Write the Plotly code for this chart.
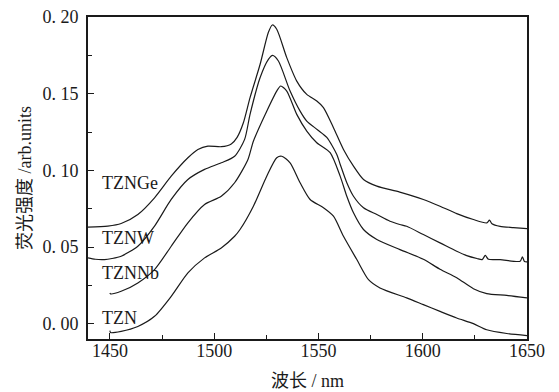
import plotly.graph_objects as go

# ---- data ----
ge_x = [1439.5, 1449, 1455.4, 1463.4, 1471.4, 1479.4, 1487.4, 1492.2, 1497, 1503.4, 1508.2, 1511,
        1514, 1517.2, 1522, 1526, 1527.9, 1530, 1534.8, 1539.6, 1544.4, 1549.2, 1552.4, 1557.2, 1562,
        1566.8, 1571.6, 1578, 1589, 1600.3, 1608.3, 1616.3, 1624.3, 1630.7, 1632, 1633.2, 1637.1,
        1643.5, 1650]
ge_y = [0.0629, 0.0636, 0.0653, 0.0712, 0.0821, 0.0962, 0.1082, 0.1136, 0.1158, 0.1154, 0.1172, 0.1215,
        0.1310, 0.1474, 0.1690, 0.1900, 0.1948, 0.1920, 0.1735, 0.1582, 0.1495, 0.1452, 0.1409, 0.1278, 0.1136,
        0.1027, 0.0940, 0.0897, 0.0858, 0.0810, 0.0766, 0.0718, 0.0679, 0.0657, 0.0675, 0.0652, 0.0635,
        0.0627, 0.0620]

w_x = [1439.5, 1443, 1447.4, 1451, 1455.4, 1463.4, 1471.4, 1479.4, 1487.4, 1495.4, 1503.4, 1509.8,
       1514.6, 1517.2, 1522, 1526, 1528, 1530.8, 1536.4, 1541.2, 1544.4, 1549.5, 1554, 1558.8,
       1560.4, 1563.6, 1566.8, 1571.6, 1578, 1584.3, 1589, 1592.3, 1600.3, 1608.3, 1616.3, 1621.1,
       1626, 1628.5, 1630, 1631.5, 1637.1, 1646.7, 1647.8, 1648.8, 1650]
w_y = [0.0429, 0.0420, 0.0418, 0.0425, 0.0440, 0.0505, 0.0636, 0.0810, 0.0940, 0.1006, 0.1049, 0.1092,
       0.1202, 0.1365, 0.1604, 0.1724, 0.1750, 0.1713, 0.1517, 0.1386, 0.1321, 0.1265, 0.1215, 0.1104,
       0.1040, 0.0919, 0.0831, 0.0756, 0.0712, 0.0668, 0.0647, 0.0635, 0.0581, 0.0527, 0.0472, 0.0444,
       0.0425, 0.0418, 0.0445, 0.0420, 0.0418, 0.0407, 0.0436, 0.0405, 0.0403]

nb_x = [1450, 1450.3, 1455.4, 1463.4, 1471.4, 1479.4, 1487.4, 1495.4, 1503.4, 1509.8, 1516.2, 1518.8,
        1525.2, 1530, 1531.9, 1534.8, 1539.6, 1544.4, 1549.2, 1555.6, 1560.4, 1563.6, 1566.8, 1571.6,
        1578, 1589.1, 1600.3, 1608.3, 1616.3, 1624.3, 1630.7, 1640.3, 1650]
nb_y = [0.0200, 0.0194, 0.0211, 0.0266, 0.0353, 0.0505, 0.0658, 0.0777, 0.0831, 0.0919, 0.1071, 0.1190,
        0.1386, 0.1517, 0.1550, 0.1517, 0.1365, 0.1256, 0.1180, 0.1115, 0.0962, 0.0831, 0.0723, 0.0614,
        0.0549, 0.0483, 0.0420, 0.0355, 0.0300, 0.0228, 0.0196, 0.0184, 0.0168]

n_x = [1450, 1450.3, 1455.4, 1463.4, 1471.4, 1479.4, 1487.4, 1495.4, 1503.4, 1509.8, 1512.4, 1518.8,
       1525.2, 1530, 1532.4, 1536.4, 1541.2, 1546, 1552.4, 1557.2, 1562, 1568.4, 1574, 1579.5,
       1592.3, 1600.3, 1608.3, 1616.3, 1624.3, 1630.7, 1640.3, 1650]
n_y = [-0.0045, -0.0058, -0.0050, -0.0018, 0.0048, 0.0178, 0.0331, 0.0429, 0.0494, 0.0570, 0.0614, 0.0766,
       0.0962, 0.1082, 0.1092, 0.1049, 0.0919, 0.0810, 0.0756, 0.0701, 0.0570, 0.0418, 0.0287, 0.0233,
       0.0168, 0.0124, 0.0080, 0.0037, 0.0000, -0.0040, -0.0064, -0.0078]

series = [("TZNGe", ge_x, ge_y), ("TZNW", w_x, w_y), ("TZNNb", nb_x, nb_y), ("TZN", n_x, n_y)]
label_y = [0.0919, 0.0560, 0.0331, 0.0037]
label_x = 1445.4

x_ticks = [1450, 1500, 1550, 1600, 1650]
x_minor = [1475, 1525, 1575, 1625]
y_ticks = [0.0, 0.05, 0.10, 0.15, 0.20]
y_tick_text = ["0. 00", "0. 05", "0. 10", "0. 15", "0. 20"]
y_minor = [0.025, 0.075, 0.125, 0.175]

FONT = "'Liberation Serif', 'Noto Sans CJK SC', serif"
INK = "#1a1a1a"

fig = go.Figure()
for name, xs, ys in series:
    fig.add_trace(go.Scatter(x=xs, y=ys, mode="lines", name=name,
                             line=dict(color=INK, width=1.2, shape="spline", smoothing=0.7),
                             showlegend=False, hoverinfo="skip"))

for (name, _, _), ly in zip(series, label_y):
    fig.add_annotation(x=label_x, y=ly, text=name, showarrow=False, xanchor="left",
                       yanchor="middle", font=dict(family=FONT, size=18, color=INK))

fig.update_layout(
    width=559, height=392,
    margin=dict(l=88, r=32, t=17, b=53),
    paper_bgcolor="white", plot_bgcolor="white",
    font=dict(family=FONT, size=18, color=INK),
    xaxis=dict(range=[1439.5, 1650], tickmode="array", tickvals=x_ticks, automargin=False,
               ticks="inside", ticklen=6, tickwidth=1.2, tickcolor=INK,
               minor=dict(tickmode="array", tickvals=x_minor, ticks="inside",
                          ticklen=4, tickwidth=1.2, tickcolor=INK, showgrid=False),
               showline=True, linecolor=INK, linewidth=1.8, mirror=True,
               showgrid=False, zeroline=False, ticklabelstandoff=-6,
               title=dict(text="波长 / nm", font=dict(family=FONT, size=18), standoff=15),
               tickfont=dict(family=FONT, size=18)),
    yaxis=dict(range=[-0.01, 0.20], tickmode="array", tickvals=y_ticks, ticktext=y_tick_text,
               automargin=False,
               ticks="inside", ticklen=6, tickwidth=1.2, tickcolor=INK,
               minor=dict(tickmode="array", tickvals=y_minor, ticks="inside",
                          ticklen=4, tickwidth=1.2, tickcolor=INK, showgrid=False),
               showline=True, linecolor=INK, linewidth=1.8, mirror=True,
               showgrid=False, zeroline=False, ticklabelstandoff=4,
               title=dict(text="荧光强度 /arb.units", font=dict(family=FONT, size=18), standoff=6),
               tickfont=dict(family=FONT, size=18)),
)

fig.write_html("out.html", config={"displayModeBar": False},
               post_script="document.body.style.margin='0';")
